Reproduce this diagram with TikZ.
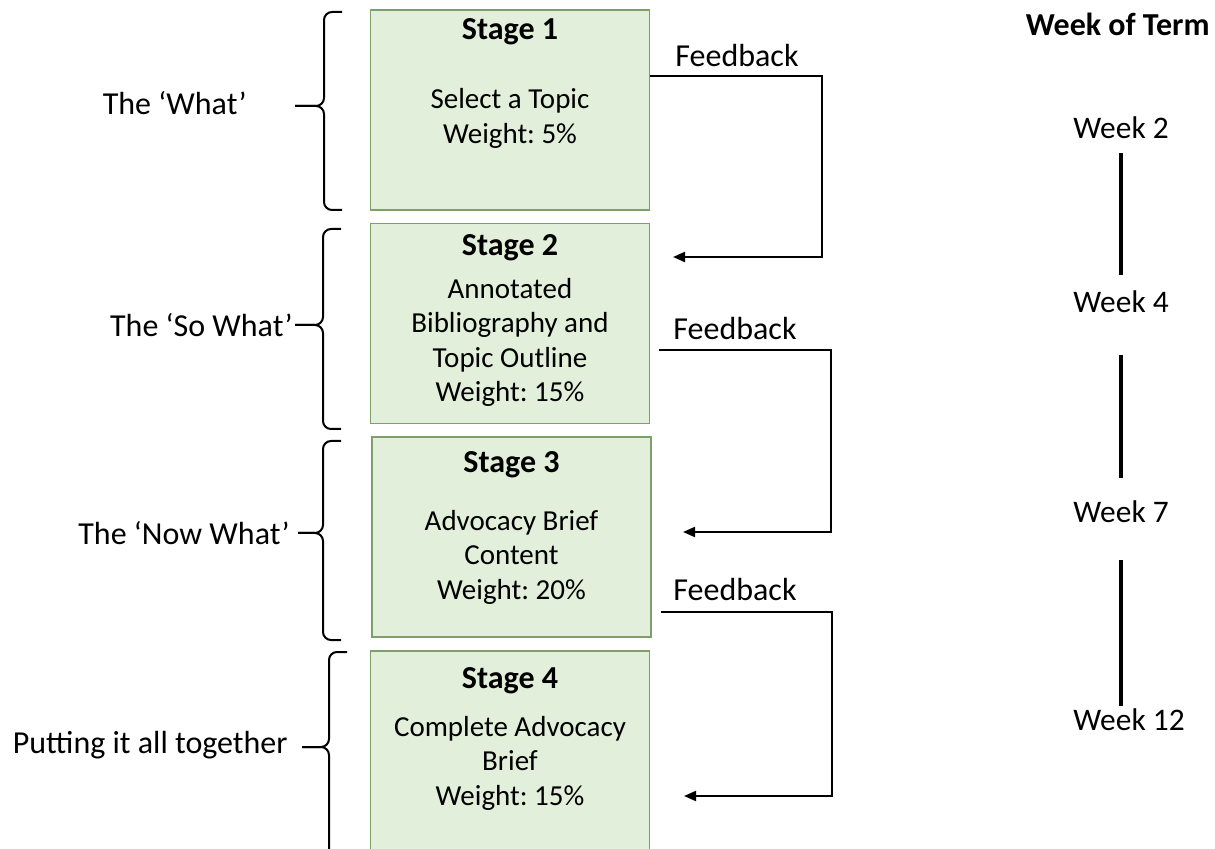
\documentclass[tikz,border=0pt]{standalone}
\usepackage{fontspec}
\setmainfont{Carlito}
\usetikzlibrary{arrows.meta}
\definecolor{boxfill}{HTML}{E2EFDA}
\definecolor{boxline}{HTML}{7F9F6A}
\frenchspacing
\begin{document}
\begin{tikzpicture}[
        x=0.5pt, y=-0.5pt,
        every node/.style={font=\fontsize{16}{19}\selectfont, inner sep=0pt},
        stagebox/.style={draw=boxline, fill=boxfill, line width=0.9pt, minimum width=139.5pt, minimum height=100pt},
        stagetitle/.style={font=\fontsize{16}{19}\selectfont\bfseries},
        body/.style={align=center, font=\fontsize{14.5}{17.25}\selectfont},
        weeklabel/.style={anchor=west, font=\fontsize{15.7}{19}\selectfont},
        fb/.style={-{Triangle[length=6pt,width=5pt]}, line width=1pt},
        brace/.style={line width=1pt, rounded corners=4pt},
        weekline/.style={line width=1.6pt},
    ]
    \useasboundingbox (0,0) rectangle (1215,849);

    % stages
    \node[stagebox](s1) at (510,110) {};
    \node[stagebox](s2) at (510,323.5) {};
    \node[stagebox](s3) at (511.5,537) {};
    \node[stagebox](s4) at (510,751) {};

    \node[stagetitle](t1) at (510,32) {Stage 1};
    \node[body](b1) at (510,118.5) {Select a Topic\\Weight: 5\%};
    \node[stagetitle](t2) at (510,248) {Stage 2};
    \node[body](b2) at (510,342.5) {Annotated\\Bibliography and\\Topic Outline\\Weight: 15\%};
    \node[stagetitle](t3) at (511.5,465) {Stage 3};
    \node[body](b3) at (511.5,557) {Advocacy Brief\\Content\\Weight: 20\%};
    \node[stagetitle](t4) at (510,681) {Stage 4};
    \node[body](b4) at (510,763) {Complete Advocacy\\Brief\\Weight: 15\%};

    % braces and phases
    \foreach \top/\mid/\bot/\x/\tick in {12/106/210/324/295, 229/325/429/323/295, 441/533/640/323/298, 652/747/880/329/302}{
        \draw[brace] (\x+18,\top) -- (\x,\top) -- (\x,\mid) -- (\tick,\mid);
        \draw[brace] (\x+18,\bot) -- (\x,\bot) -- (\x,\mid) -- (\tick,\mid);
    }
    \node[anchor=east](what) at (247,103) {The ‘What’};
    \node[anchor=east](sowhat) at (293,325) {The ‘So What’};
    \node[anchor=east](nowwhat) at (290,533) {The ‘Now What’};
    \node[anchor=east](together) at (288,745) {Putting it all together};

    % feedback loops
    \coordinate (fb1out) at (s1.east |- 0,76);
    \coordinate (fb1in) at (673,257);
    \coordinate (fb2out) at (659,350);
    \coordinate (fb2in) at (683,532);
    \coordinate (fb3out) at (661,612);
    \coordinate (fb3in) at (684,796);
    \draw[fb] (fb1out) -- ++(172,0) |- (fb1in);
    \draw[fb] (fb2out) -- ++(172,0) |- (fb2in);
    \draw[fb] (fb3out) -- ++(171,0) |- (fb3in);
    \node(fb1) at (737,56) {Feedback};
    \node(fb2) at (735,329) {Feedback};
    \node(fb3) at (735,590) {Feedback};

    % weeks
    \node[stagetitle, anchor=east](term) at (1210,24) {Week of Term};
    \node[weeklabel](w2) at (1073,128) {Week 2};
    \node[weeklabel](w4) at (1073,302) {Week 4};
    \node[weeklabel](w7) at (1073,512) {Week 7};
    \node[weeklabel](w12) at (1073,720) {Week 12};

    \draw[weekline, shorten <=7pt, shorten >=8pt] (w2.south) -- (w4.north);
    \draw[weekline, shorten <=21pt, shorten >=11.5pt] (w4.south) -- (w7.north);
    \draw[weekline, shorten <=18.5pt, shorten >=1.5pt] (w7.south) -- (w7.south |- w12.north);
\end{tikzpicture}
\end{document}
